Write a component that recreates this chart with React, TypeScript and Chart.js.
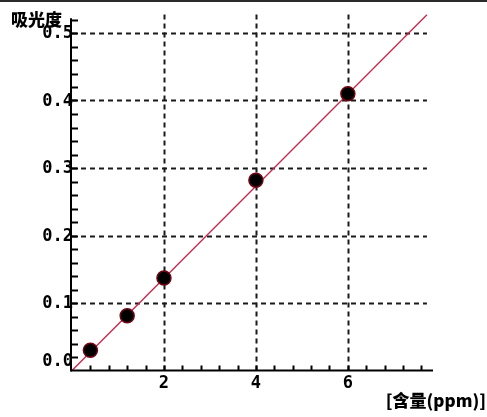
import { useEffect, useRef } from "react";
import { Chart, registerables } from "chart.js";

Chart.register(...registerables);

// Measured samples: content (ppm) vs absorbance
const contentPpm = [0.4, 1.2, 2, 4, 6];
const absorbance = [0.03, 0.081, 0.137, 0.282, 0.41];

// Calibration line end points
const fitX = [0, 7.72];
const fitY = [0, 0.527];

// Axis ticks and labels
const xMajorTicks = [2, 4, 6];
const yMajorTicks = [0.1, 0.2, 0.3, 0.4, 0.5];
const yTickLabels = ["0.0", "0.1", "0.2", "0.3", "0.4", "0.5"];
const xMinorStep = 0.4;
const yMinorStep = 0.02;

const X_MAX = 7.83;
const Y_MAX = 0.53;
const GRID_X_END = 7.72;
const Y_AXIS_TOP = 0.522;

const yTitle = "吸光度";
const xTitle = "[含量(ppm)]";

const axesPlugin = {
  id: "maple-axes",
  beforeDatasetsDraw(chart: any) {
    const { ctx, scales } = chart;
    const xs = scales.x;
    const ys = scales.y;
    const x0 = xs.getPixelForValue(0);
    const y0 = ys.getPixelForValue(0);
    ctx.save();
    // dashed grid
    ctx.strokeStyle = "#1a1a1a";
    ctx.lineWidth = 2;
    ctx.setLineDash([5, 4]);
    const gx1 = xs.getPixelForValue(GRID_X_END);
    for (const v of yMajorTicks) {
      const py = Math.round(ys.getPixelForValue(v)) + 0.5;
      ctx.beginPath();
      ctx.moveTo(x0, py);
      ctx.lineTo(gx1, py);
      ctx.stroke();
    }
    const gyTop = ys.getPixelForValue(Y_MAX);
    for (const v of xMajorTicks) {
      const px = Math.round(xs.getPixelForValue(v)) + 0.5;
      ctx.beginPath();
      ctx.moveTo(px, y0);
      ctx.lineTo(px, gyTop);
      ctx.stroke();
    }
    ctx.restore();
  },
  afterDatasetsDraw(chart: any) {
    const { ctx, scales } = chart;
    const xs = scales.x;
    const ys = scales.y;
    const x0 = xs.getPixelForValue(0);
    const y0 = ys.getPixelForValue(0);
    ctx.save();
    ctx.strokeStyle = "#000";
    ctx.lineWidth = 2;
    // axis lines
    ctx.beginPath();
    ctx.moveTo(x0 - 1, y0);
    ctx.lineTo(xs.getPixelForValue(X_MAX) + 1, y0);
    ctx.stroke();
    ctx.beginPath();
    ctx.moveTo(x0 - 1, y0 + 1);
    ctx.lineTo(x0 - 1, ys.getPixelForValue(Y_AXIS_TOP));
    ctx.stroke();
    // minor ticks on x axis
    for (let i = 1; i * xMinorStep <= 7.65; i++) {
      const px = Math.round(xs.getPixelForValue(i * xMinorStep)) + 0.5;
      ctx.beginPath();
      ctx.moveTo(px, y0);
      ctx.lineTo(px, y0 - 5);
      ctx.stroke();
    }
    // minor ticks on y axis
    for (let i = 1; i * yMinorStep <= Y_AXIS_TOP + 1e-6; i++) {
      const py = Math.round(ys.getPixelForValue(i * yMinorStep)) + 0.5;
      ctx.beginPath();
      ctx.moveTo(x0 - 1, py);
      ctx.lineTo(x0 + 6, py);
      ctx.stroke();
    }
    // tick labels
    ctx.fillStyle = "#000";
    ctx.font = "bold 17px 'DejaVu Sans Mono'";
    ctx.textAlign = "right";
    ctx.textBaseline = "middle";
    yTickLabels.forEach((label, i) => {
      const v = i * 0.1;
      let py = ys.getPixelForValue(v);
      if (i === 0) py -= 10;
      ctx.fillText(label, x0 + 1, py + 1);
    });
    ctx.textAlign = "center";
    ctx.textBaseline = "top";
    for (const v of xMajorTicks) {
      ctx.fillText(String(v), xs.getPixelForValue(v), y0 + 5);
    }
    // titles
    ctx.font = "900 17px 'Noto Sans CJK SC'";
    ctx.textAlign = "left";
    ctx.textBaseline = "middle";
    ctx.fillText(yTitle, 11, 20);
    ctx.textAlign = "right";
    ctx.fillText(xTitle, 486, 401);
    // top frame edge
    ctx.fillStyle = "#2b2b2b";
    ctx.fillRect(0, 0, chart.width, 2);
    ctx.restore();
  },
};

export default function App() {
  const canvasRef = useRef<HTMLCanvasElement | null>(null);

  useEffect(() => {
    document.body.style.margin = "0";
    const canvas = canvasRef.current;
    if (!canvas) return;
    const chart = new Chart(canvas, {
      type: "scatter",
      data: {
        datasets: [
          {
            type: "line",
            data: fitX.map((x, i) => ({ x, y: fitY[i] })),
            borderColor: "#c8284a",
            borderWidth: 1.3,
            pointRadius: 0,
            fill: false,
            order: 2,
          },
          {
            type: "scatter",
            data: contentPpm.map((x, i) => ({ x, y: absorbance[i] })),
            backgroundColor: "#000",
            borderColor: "#6e0614",
            borderWidth: 1.5,
            pointRadius: 7,
            order: 1,
          },
        ],
      },
      options: {
        responsive: false,
        animation: false,
        devicePixelRatio: 1,
        layout: { padding: { left: 72, right: 487 - 432, top: 12.75, bottom: 46.5 } },
        plugins: { legend: { display: false }, tooltip: { enabled: false } },
        scales: {
          x: { type: "linear", min: 0, max: X_MAX, display: false },
          y: { type: "linear", min: 0, max: Y_MAX, display: false },
        },
      },
      plugins: [axesPlugin],
    });
    return () => chart.destroy();
  }, []);

  return (
    <div style={{ width: 487, height: 417, background: "#fff" }}>
      <canvas ref={canvasRef} width={487} height={417} style={{ display: "block" }} />
    </div>
  );
}
